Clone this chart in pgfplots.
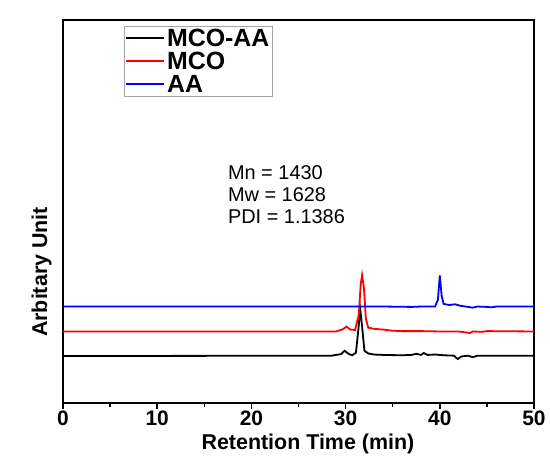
\documentclass[border=0pt]{standalone}
\usepackage{pgfplots}
\pgfplotsset{compat=1.18}
\usepackage{fontspec}
\setmainfont{Liberation Sans}
\begin{document}
\begin{tikzpicture}
\useasboundingbox (-63bp,-53bp) rectangle (487bp,403bp);
\begin{axis}[
  at={(0,0)}, anchor=south west,
  scale only axis, width=471bp, height=383bp,
  xmin=0, xmax=50, ymin=-1.32, ymax=100,
  axis line style={line width=1.8bp},
  xtick={0,10,20,30,40,50},
  minor xtick={5,15,25,35,45},
  ytick=\empty,
  tick align=outside,
  major tick length=6bp, minor tick length=4bp,
  tick style={line width=1.5bp, black},
  xtick pos=bottom,
  /pgf/number format/assume math mode=true,
  ticklabel style={font=\bfseries\fontsize{21}{21}\selectfont},
  xticklabel style={anchor=base, inner sep=0pt, yshift=-16bp},
  xlabel={Retention Time (min)},
  ylabel={Arbitary Unit},
  label style={font=\bfseries\fontsize{21.5}{22}\selectfont},
  xlabel style={at={(axis description cs:0.52,0)}, anchor=base, inner sep=0pt, yshift=-46bp},
  ylabel style={at={(axis description cs:0,0.342)}, anchor=south, yshift=8bp},
  legend style={at={(rel axis cs:0.1295,0.985)}, anchor=north west,
    draw=gray!70, line width=0.6bp, fill=none,
    font=\bfseries\fontsize{25}{25}\selectfont,
    nodes={text height=17bp, text depth=1bp, inner ysep=1bp},
    inner xsep=1bp, inner ysep=2bp, row sep=3bp},
  legend cell align=left,
  legend image code/.code={\draw[#1] (0bp,0bp) -- (38bp,0bp);},
]
\addplot[black, line width=1.8bp] coordinates {
(0,11.1) (28.5,11.2) (29.5,11.6) (29.9,12.5) (30.3,11.7) (30.7,11.3) (31.1,12) (31.35,18) (31.55,23.5) (31.75,19) (32,12.5) (32.4,11.8) (33,11.5) (34,11.4) (36,11.3) (37,11.4) (37.5,11.7) (38,11.4) (38.3,11.9) (38.7,11.4) (39.5,11.5) (40.5,11.3) (41.5,11.2) (41.9,10.3) (42.3,11.0) (43,11.2) (43.5,10.8) (44,11.2) (46,11.2) (50,11.2)
};
\addlegendentry{MCO-AA}
\addplot[red, line width=1.8bp] coordinates {
(0,17.6) (29,17.6) (29.7,18.2) (30.1,18.9) (30.5,18.1) (31,18) (31.4,22) (31.6,30) (31.75,32.5) (31.95,29) (32.15,21) (32.4,18.6) (33,18.3) (34,18.1) (35,17.8) (36,17.7) (38,17.7) (40,17.6) (42,17.6) (43.2,17.2) (43.5,17.6) (44.5,17.5) (45,17.7) (50,17.6)
};
\addlegendentry{MCO}
\addplot[blue, line width=1.8bp] coordinates {
(0,24.2) (34,24.2) (37,24.1) (38,24.2) (39.5,24.2) (39.8,26) (40.0,32.4) (40.2,27) (40.4,24.9) (41,24.6) (41.6,24.8) (42.2,24.4) (43,24.1) (43.5,23.9) (44,24.2) (45,24.1) (45.5,24.0) (46,24.2) (50,24.2)
};
\addlegendentry{AA}
\node[anchor=north west, align=left, font=\fontsize{20}{22}\selectfont, inner sep=0pt] at (rel axis cs:0.35,0.621) {Mn = 1430\\Mw = 1628\\PDI = 1.1386};
\end{axis}
\end{tikzpicture}
\end{document}
